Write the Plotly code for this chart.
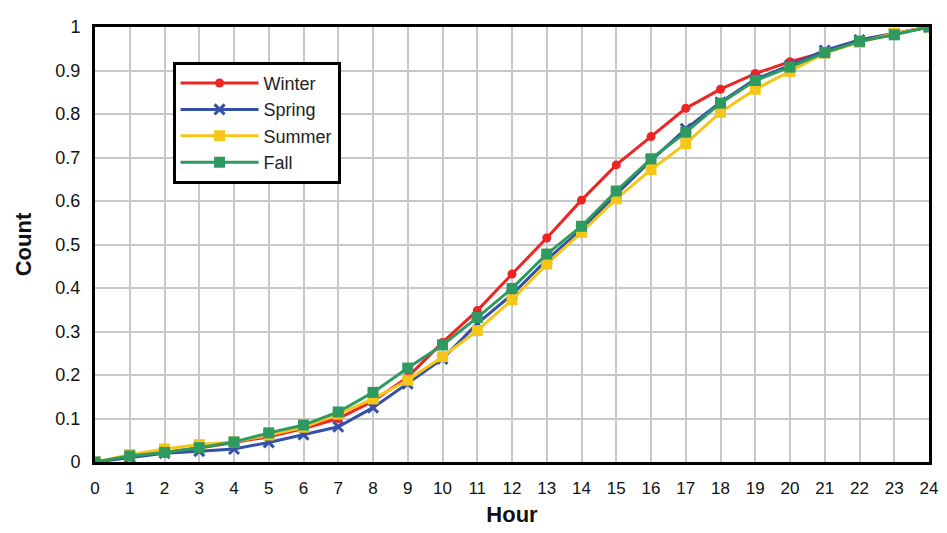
import plotly.graph_objects as go

hours = list(range(25))
winter = [0, 0.012, 0.022, 0.032, 0.045, 0.058, 0.077, 0.100, 0.140, 0.195, 0.275, 0.348, 0.432, 0.515, 0.602, 0.683, 0.748, 0.813, 0.857, 0.893, 0.920, 0.942, 0.970, 0.985, 1.0]
spring = [0, 0.010, 0.020, 0.025, 0.030, 0.045, 0.063, 0.081, 0.125, 0.180, 0.237, 0.318, 0.385, 0.465, 0.535, 0.615, 0.693, 0.766, 0.827, 0.880, 0.912, 0.946, 0.970, 0.985, 1.0]
summer = [0, 0.017, 0.030, 0.040, 0.046, 0.062, 0.080, 0.110, 0.145, 0.188, 0.242, 0.302, 0.373, 0.455, 0.528, 0.605, 0.672, 0.732, 0.804, 0.857, 0.898, 0.940, 0.965, 0.985, 1.0]
fall = [0, 0.014, 0.022, 0.033, 0.046, 0.067, 0.085, 0.115, 0.160, 0.216, 0.269, 0.332, 0.399, 0.478, 0.542, 0.623, 0.697, 0.758, 0.825, 0.877, 0.908, 0.941, 0.967, 0.982, 1.0]

series = [
    ("Winter", winter, "#EE2525", "circle", 9),
    ("Spring", spring, "#3450A8", "x-thin-open", 10),
    ("Summer", summer, "#F5C518", "square", 11),
    ("Fall", fall, "#2E9A62", "square", 11),
]

fig = go.Figure()
for name, vals, color, sym, size in series:
    marker = dict(symbol=sym, size=size, color=color)
    if sym.startswith("x"):
        marker["line"] = dict(color=color, width=3)
    fig.add_trace(go.Scatter(
        x=hours, y=vals, name=name, mode="lines+markers",
        line=dict(color=color, width=3),
        marker=marker,
    ))

FAM = "Liberation Sans, Arial, sans-serif"
fig.update_layout(
    width=939, height=525,
    margin=dict(l=87, r=15, t=9, b=70),
    paper_bgcolor="white", plot_bgcolor="white",
    font=dict(family=FAM, size=17, color="#111111"),
    xaxis=dict(
        range=[0, 24], tickmode="linear", dtick=1, tick0=0,
        showgrid=True, gridcolor="#C8C8C8", gridwidth=2,
        showline=True, linecolor="black", linewidth=3, mirror=True,
        ticks="", zeroline=False, ticklabelstandoff=9,
        title=dict(text="<b>Hour</b>", font=dict(size=22, family=FAM, color="#111111"), standoff=10),
        tickfont=dict(family=FAM, size=17, color="#111111"),
    ),
    yaxis=dict(
        range=[0, 1], tickmode="linear", dtick=0.1, tick0=0,
        showgrid=True, gridcolor="#C8C8C8", gridwidth=2,
        showline=True, linecolor="black", linewidth=3, mirror=True,
        ticks="", zeroline=False, ticklabelstandoff=8,
        title=dict(text="<b>Count</b>", font=dict(size=22, family=FAM, color="#111111"), standoff=18),
        tickfont=dict(family=FAM, size=18, color="#111111"),
    ),
    legend=dict(
        x=0.093, y=0.92, xanchor="left", yanchor="top",
        bgcolor="white", bordercolor="black", borderwidth=3,
        font=dict(family=FAM, size=18, color="#222222"),
        tracegroupgap=0, itemwidth=78,
    ),
)

fig.write_html("out.html")
